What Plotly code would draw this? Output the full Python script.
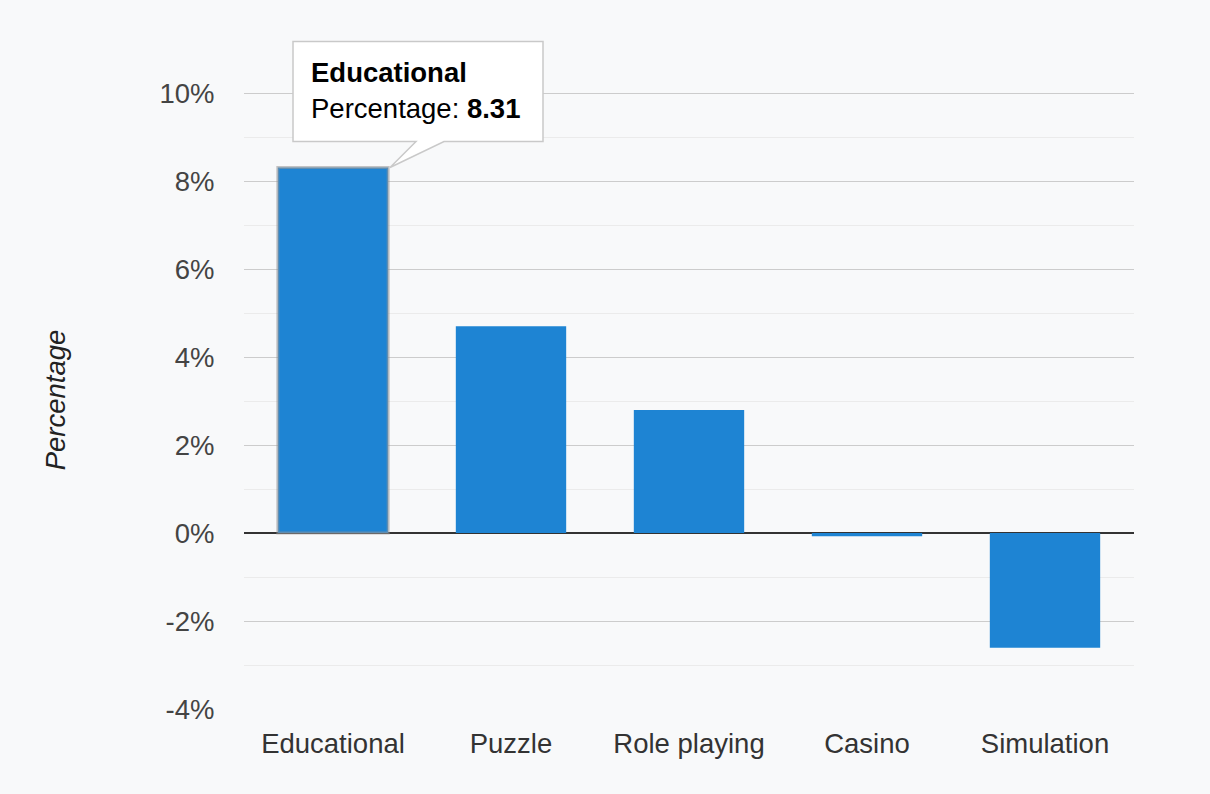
import plotly.graph_objects as go

categories = ["Educational", "Puzzle", "Role playing", "Casino", "Simulation"]
values = [8.31, 4.70, 2.80, -0.07, -2.61]
y_ticks = [-4, -2, 0, 2, 4, 6, 8, 10]
y_tick_labels = [f"{v}%" for v in y_ticks]
y_range = [-4, 10.05]
highlight_index = 0

FONT = "Arial, Liberation Sans, Helvetica, sans-serif"
FS = 27.5
BAR_COLOR = "#1e84d3"
BG = "#f8f9fa"

line_colors = ["rgba(150,150,150,0.55)" if i == highlight_index else BAR_COLOR for i in range(len(categories))]
line_widths = [3 if i == highlight_index else 0 for i in range(len(categories))]

fig = go.Figure(go.Bar(
    x=categories, y=values,
    marker=dict(color=BAR_COLOR, line=dict(color=line_colors, width=line_widths)),
    hoverinfo="none",
))

hx = highlight_index
hy = values[highlight_index]
# anchor of the callout in paper fractions, derived from the data
ax_paper = (hx + 0.5) / len(categories)
ay_paper = (hy - y_range[0]) / (y_range[1] - y_range[0])

fig.add_shape(
    type="path", xref="paper", yref="paper", xsizemode="pixel", ysizemode="pixel",
    xanchor=ax_paper, yanchor=ay_paper,
    path="M -40,26 L 83,26 L 57,0 L 111,26 L 210,26 L 210,126 L -40,126 Z",
    fillcolor="white", line=dict(color="#c9c9c9", width=1.5), layer="above",
)
fig.add_annotation(
    x=ax_paper, y=ay_paper, xref="paper", yref="paper", xshift=-24, yshift=113,
    xanchor="left", yanchor="top", align="left", showarrow=False,
    text=f"<b>{categories[hx]}</b><br>Percentage: <b>{hy:.2f}</b>",
    font=dict(family=FONT, size=FS, color="#000"),
)

fig.update_layout(
    width=1210, height=794,
    margin=dict(l=244, r=76, t=91, b=85),
    paper_bgcolor=BG, plot_bgcolor=BG,
    bargap=0.38,
    showlegend=False,
    font=dict(family=FONT, size=FS, color="#444"),
)
fig.update_xaxes(
    showgrid=False, showline=False, ticks="outside", ticklen=10, tickcolor="rgba(0,0,0,0)",
    tickfont=dict(family=FONT, size=FS, color="#333"),
)
fig.update_yaxes(
    range=y_range, tickvals=y_ticks, ticktext=y_tick_labels,
    showgrid=True, gridcolor="#cccccc", gridwidth=1,
    minor=dict(dtick=1, tick0=0, showgrid=True, gridcolor="#ebebeb", gridwidth=1),
    zeroline=True, zerolinecolor="#333333", zerolinewidth=2,
    showline=False, ticks="outside", ticklen=23, tickcolor="rgba(0,0,0,0)",
    tickfont=dict(family=FONT, size=FS, color="#444"),
    title=dict(text="<i>Percentage</i>", font=dict(family=FONT, size=FS, color="#222"), standoff=85),
)

fig.write_html("out.html")
